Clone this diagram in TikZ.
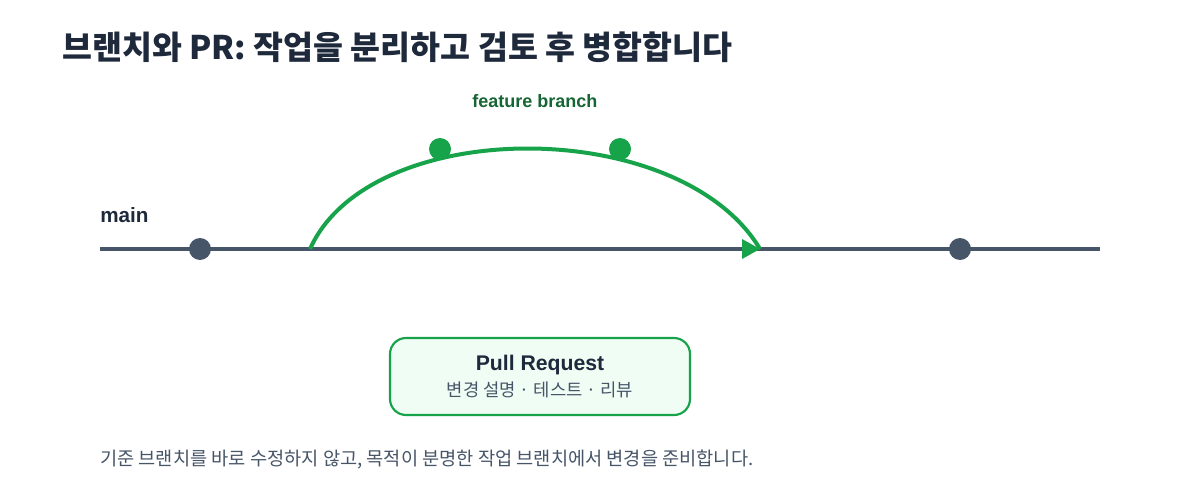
\documentclass[tikz,border=0pt]{standalone}
\usepackage{fontspec}
\setmainfont{Liberation Sans}
\newfontfamily\kofont{Noto Sans CJK KR}
\definecolor{slate}{HTML}{475569}
\definecolor{ink}{HTML}{1E293B}
\definecolor{branchgreen}{HTML}{16A34A}
\definecolor{darkgreen}{HTML}{166534}
\definecolor{prfill}{HTML}{F0FDF4}
\newcommand*{\titlestyle}{\kofont\bfseries\fontsize{24.4}{28}\selectfont\color{ink}}
\newcommand*{\notestyle}{\kofont\fontsize{14}{16}\selectfont\color{slate}}

\begin{document}
\begin{tikzpicture}[
      x = 0.75pt,
      y = -0.75pt,
      label/.style   = {inner sep = 0pt},
      commit/.style  = {circle, inner sep = 0pt, minimum size = 16.5pt},
      trunk/.style   = {draw = slate, line width = 3.4pt},
      branch/.style  = {draw = branchgreen, line width = 3pt},
      prbox/.style   = {draw = branchgreen, fill = prfill, line width = 1.6pt,
                        rounded corners = 12pt, minimum width = 225pt,
                        minimum height = 57.75pt}
   ]
   \useasboundingbox[fill = white] (0,0) rectangle (1200,500);

   % title
   \node[label, anchor = base west, font = \titlestyle] (title) at (62,59)
      {브랜치와 PR: 작업을 분리하고 검토 후 병합합니다};

   % main line
   \coordinate (mainstart) at (100,249);
   \coordinate (mainend)   at (1100,249);
   \coordinate (fork)      at (310,249);
   \coordinate (merge)     at (760,249);
   \draw[trunk] (mainstart) -- (mainend);
   \node[label, anchor = base west, font = \bfseries\fontsize{15.5}{18}\selectfont,
      color = ink] (mainlabel) at (100,222) {main};
   \node[commit, fill = slate] (c1) at (200,249) {};
   \node[commit, fill = slate] (c4) at (960,249) {};

   % feature branch
   \draw[branch] (fork) .. controls (370,115) and (680,115) .. (merge);
   \fill[branchgreen] (merge) -- (742,239) -- (742,259) -- cycle;
   \node[commit, fill = branchgreen] (c2) at (440,149) {};
   \node[commit, fill = branchgreen] (c3) at (620,149) {};
   \node[label, anchor = base, font = \bfseries\fontsize{13.5}{16}\selectfont,
      color = darkgreen] (featurelabel) at (535,107) {feature branch};

   % pull request
   \node[prbox] (pr) at (540,376.5) {};
   \node[label, anchor = base, font = \bfseries\fontsize{15.9}{19}\selectfont,
      color = ink] (prtitle) at (540,370) {Pull Request};
   \node[label, anchor = base, font = \kofont\fontsize{13.3}{16}\selectfont,
      color = slate] (prsteps) at (540,396) {변경 설명 · 테스트 · 리뷰};

   % caption
   \node[label, anchor = base west, font = \notestyle] (caption) at (100,465)
      {기준 브랜치를 바로 수정하지 않고, 목적이 분명한 작업 브랜치에서 변경을 준비합니다.};
\end{tikzpicture}
\end{document}
